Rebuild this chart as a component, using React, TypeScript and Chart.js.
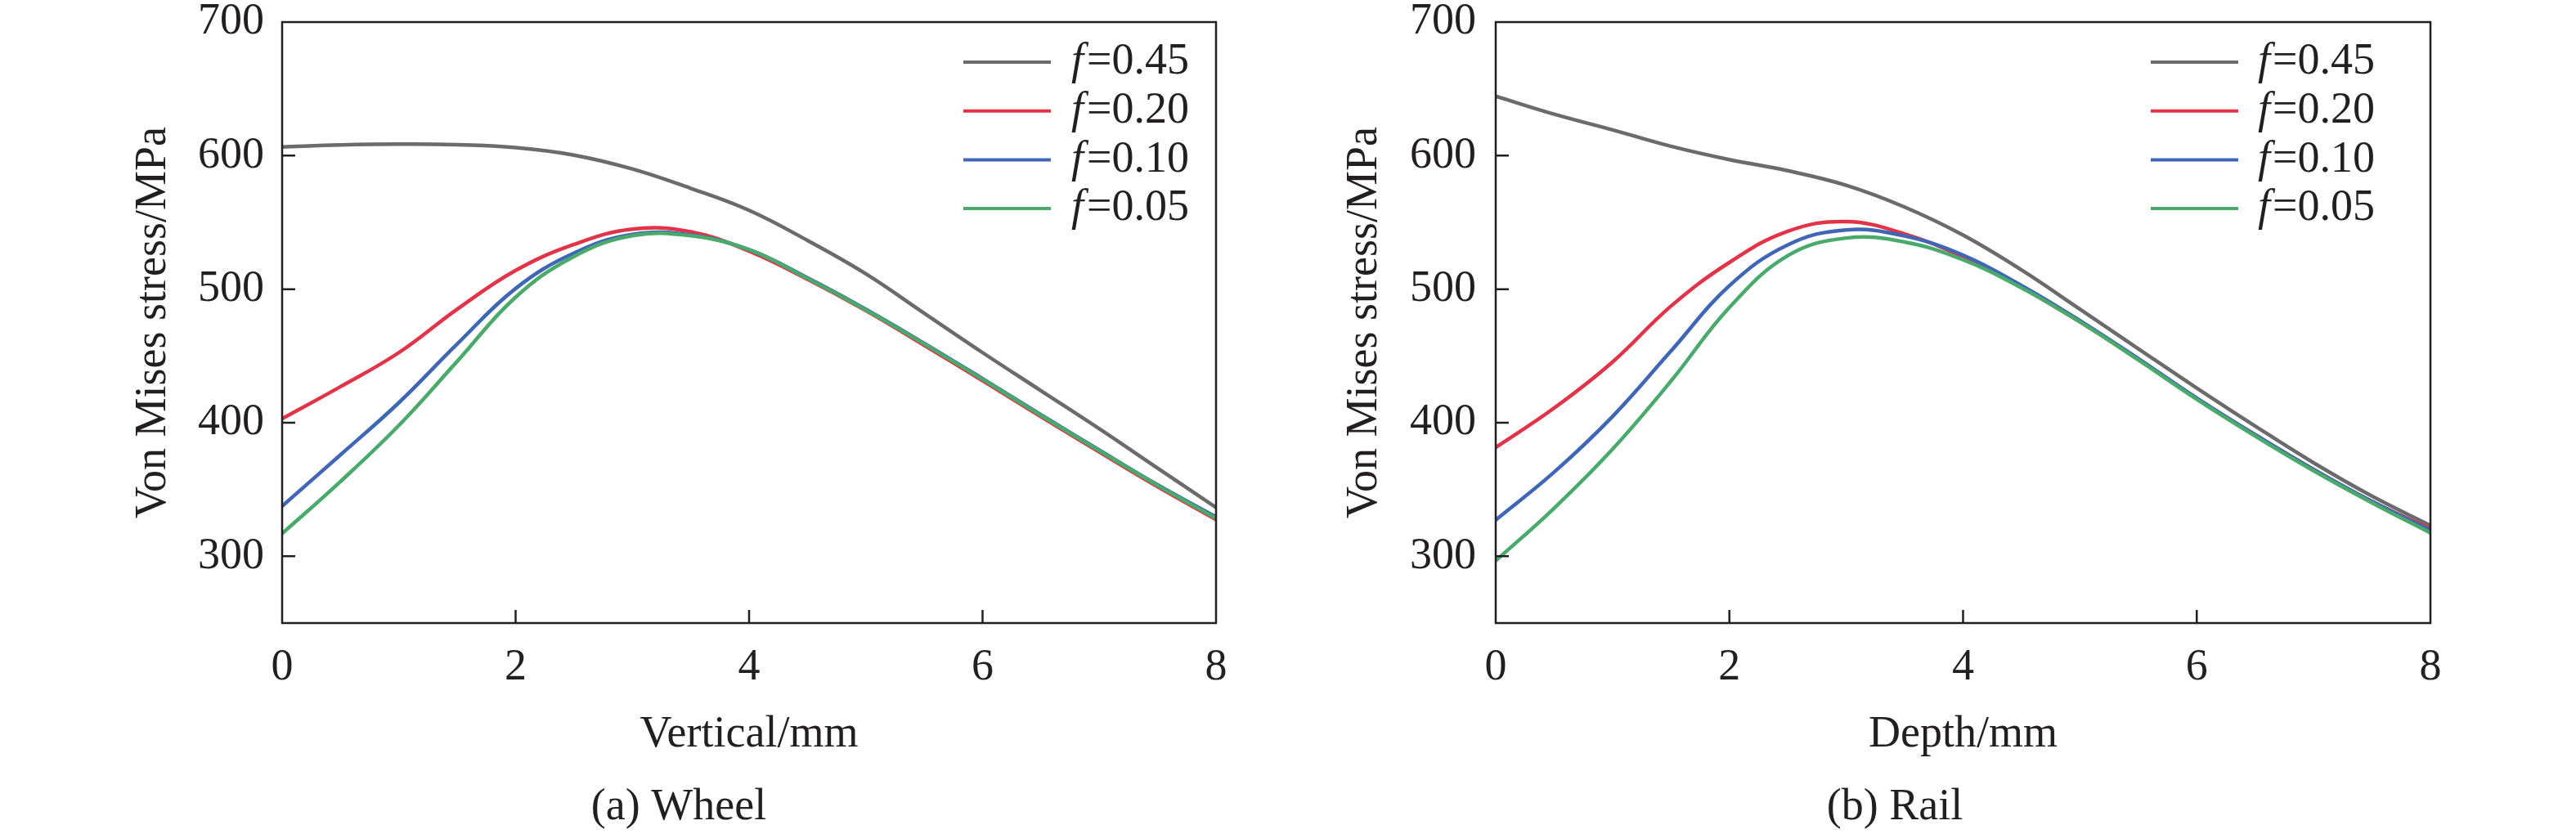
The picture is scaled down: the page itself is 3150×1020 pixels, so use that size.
import React, { useEffect, useRef } from "react";
import { Chart, registerables } from "chart.js";

Chart.register(...registerables);

// ---------- data ----------
const depths = [0, 0.5, 1, 1.5, 2, 2.5, 3, 3.5, 4, 4.5, 5, 5.5, 6, 6.5, 7, 7.5, 8];
const xTicks = [0, 2, 4, 6, 8];
const yTicks = [300, 400, 500, 600, 700];
const fLabels = ["0.45", "0.20", "0.10", "0.05"];
const seriesColors = ["#6b6b6b", "#e23448", "#3f67b6", "#49aa6b"];

// (a) Wheel
const wheelF045 = [606.5, 608, 608.6, 608.2, 606, 600.4, 590, 575.5, 559, 536.5, 511.5, 482, 452.5, 424, 395.5, 366, 336.5];
const wheelF020 = [403, 427, 452.5, 485, 514, 533.5, 545, 543, 528.5, 507.5, 484, 458, 431.5, 404.5, 378, 352, 327.5];
const wheelF010 = [337.5, 376, 415, 459, 500.5, 527, 541, 540.5, 529.5, 508.5, 485, 459.5, 433, 406, 379.5, 353.5, 329.5];
const wheelF005 = [317, 356, 398, 446, 494, 524.5, 540, 540, 529.5, 508, 484.5, 459, 432.5, 405.5, 379, 353, 328.5];

// (b) Rail
const railF045 = [644.5, 631, 619.3, 607, 597, 588.7, 577.8, 561.5, 540.5, 514.4, 485, 455.4, 426, 397.5, 370, 345, 323];
const railF020 = [381.5, 411, 445.5, 487.3, 520, 543.4, 550.6, 541.4, 524, 501.5, 475.5, 447.5, 418, 391, 365, 341, 320.5];
const railF010 = [327.2, 363, 404.7, 453.7, 502.6, 533.2, 544.4, 539.8, 525.5, 502.8, 476.5, 448, 418.5, 391, 365, 341, 319.5];
const railF005 = [296.6, 336, 380.2, 431.2, 486.3, 525.1, 538.3, 535.3, 522, 501, 475.5, 447, 417.5, 390, 364, 340, 317.5];

const yTitle = "Von Mises stress/MPa";

// ---------- style ----------
const INK = "#231f20";
const FAMILY = "'Liberation Serif', 'Times New Roman', serif";
const FONT_SIZE = 54;

type Geometry = {
  rightPad: number;
  yAxisWidth: number;
  yTitlePad: number;
  yTickPad: number;
  legendLineStart: number; // offset from chartArea.right
  legendLineEnd: number;
  legendF: number;
  legendEq: number;
  captionX: number;
};

type Props = {
  values: number[][];
  xTitle: string;
  caption: string;
  geo: Geometry;
};

function makeFramePlugin(geo: Geometry, caption: string) {
  return {
    id: "frameAndLegend",
    afterDraw(chart: any) {
      const { ctx, chartArea, scales } = chart;
      const { left, right, top, bottom } = chartArea;
      ctx.save();
      ctx.strokeStyle = INK;
      ctx.lineWidth = 2.5;
      ctx.strokeRect(left, top, right - left, bottom - top);
      ctx.beginPath();
      yTicks.forEach((v) => {
        if (v <= scales.y.min || v >= scales.y.max) return;
        const y = scales.y.getPixelForValue(v);
        ctx.moveTo(left, y);
        ctx.lineTo(left + 16, y);
      });
      xTicks.forEach((v) => {
        if (v <= scales.x.min || v >= scales.x.max) return;
        const x = scales.x.getPixelForValue(v);
        ctx.moveTo(x, bottom);
        ctx.lineTo(x, bottom - 16);
      });
      ctx.stroke();

      // legend
      fLabels.forEach((lab, i) => {
        const y = top + 49 + i * 59.7;
        ctx.strokeStyle = seriesColors[i];
        ctx.lineWidth = 4;
        ctx.beginPath();
        ctx.moveTo(right - geo.legendLineStart, y);
        ctx.lineTo(right - geo.legendLineEnd, y);
        ctx.stroke();
        ctx.fillStyle = INK;
        ctx.textBaseline = "middle";
        ctx.textAlign = "left";
        ctx.font = `italic ${FONT_SIZE}px ${FAMILY}`;
        ctx.fillText("f", right - geo.legendF, y);
        ctx.font = `${FONT_SIZE}px ${FAMILY}`;
        ctx.fillText("=" + lab, right - geo.legendEq, y);
      });

      // caption
      ctx.fillStyle = INK;
      ctx.font = `${FONT_SIZE}px ${FAMILY}`;
      ctx.textAlign = "center";
      ctx.textBaseline = "alphabetic";
      ctx.fillText(caption, geo.captionX, 1002);
      ctx.restore();
    },
  };
}

function StressChart({ values, xTitle, caption, geo }: Props) {
  const ref = useRef<HTMLCanvasElement | null>(null);
  useEffect(() => {
    if (!ref.current) return;
    const font = { family: FAMILY, size: FONT_SIZE, lineHeight: 1 };
    const chart = new Chart(ref.current, {
      type: "line",
      data: {
        datasets: values.map((vals, i) => ({
          label: "f=" + fLabels[i],
          data: depths.map((x, j) => ({ x, y: vals[j] })),
          borderColor: seriesColors[i],
          backgroundColor: seriesColors[i],
          borderWidth: 4.5,
          pointRadius: 0,
          fill: false,
          tension: 0.4,
          order: values.length - i,
        })),
      },
      options: {
        responsive: false,
        animation: false,
        devicePixelRatio: 1,
        layout: { padding: { left: 0, top: 27, right: geo.rightPad, bottom: 0 } },
        plugins: { legend: { display: false }, tooltip: { enabled: false } },
        scales: {
          x: {
            type: "linear",
            min: 0,
            max: 8,
            afterBuildTicks: (s: any) => {
              s.ticks = xTicks.map((v) => ({ value: v }));
            },
            afterFit: (s: any) => {
              s.height = 258;
              s.paddingLeft = 0;
              s.paddingRight = 0;
            },
            grid: { display: false, drawTicks: false },
            border: { display: false },
            ticks: { font, color: INK, padding: 27.5, maxRotation: 0, autoSkip: false },
            title: {
              display: true,
              text: xTitle,
              font,
              color: INK,
              padding: { top: 0, bottom: 94.5 },
            },
          },
          y: {
            type: "linear",
            min: 250,
            max: 700,
            afterBuildTicks: (s: any) => {
              s.ticks = yTicks.map((v) => ({ value: v }));
            },
            afterFit: (s: any) => {
              s.width = geo.yAxisWidth;
              s.paddingTop = 0;
              s.paddingBottom = 0;
            },
            grid: { display: false, drawTicks: false },
            border: { display: false },
            ticks: { font, color: INK, padding: geo.yTickPad, autoSkip: false },
            title: {
              display: true,
              text: yTitle,
              font,
              color: INK,
              padding: { top: geo.yTitlePad, bottom: 0 },
            },
          },
        },
      } as any,
      plugins: [makeFramePlugin(geo, caption)],
    } as any);
    return () => chart.destroy();
  }, []);
  return <canvas ref={ref} width={1575} height={1020} style={{ width: 1575, height: 1020, display: "block" }} />;
}

const wheelGeo: Geometry = {
  rightPad: 88,
  yAxisWidth: 345,
  yTitlePad: 161,
  yTickPad: 22,
  legendLineStart: 309,
  legendLineEnd: 202,
  legendF: 177,
  legendEq: 158,
  captionX: 830,
};

const railGeo: Geometry = {
  rightPad: 178,
  yAxisWidth: 254,
  yTitlePad: 67,
  yTickPad: 24,
  legendLineStart: 342,
  legendLineEnd: 235,
  legendF: 211,
  legendEq: 193,
  captionX: 742,
};

export default function App() {
  useEffect(() => {
    document.body.style.margin = "0";
  }, []);
  return (
    <div style={{ position: "absolute", left: 0, top: 0, width: 3150, height: 1020, background: "#fff", overflow: "hidden" }}>
      <div style={{ position: "absolute", left: 0, top: 0 }}>
        <StressChart
          values={[wheelF045, wheelF020, wheelF010, wheelF005]}
          xTitle="Vertical/mm"
          caption="(a) Wheel"
          geo={wheelGeo}
        />
      </div>
      <div style={{ position: "absolute", left: 1575, top: 0 }}>
        <StressChart
          values={[railF045, railF020, railF010, railF005]}
          xTitle="Depth/mm"
          caption="(b) Rail"
          geo={railGeo}
        />
      </div>
    </div>
  );
}
